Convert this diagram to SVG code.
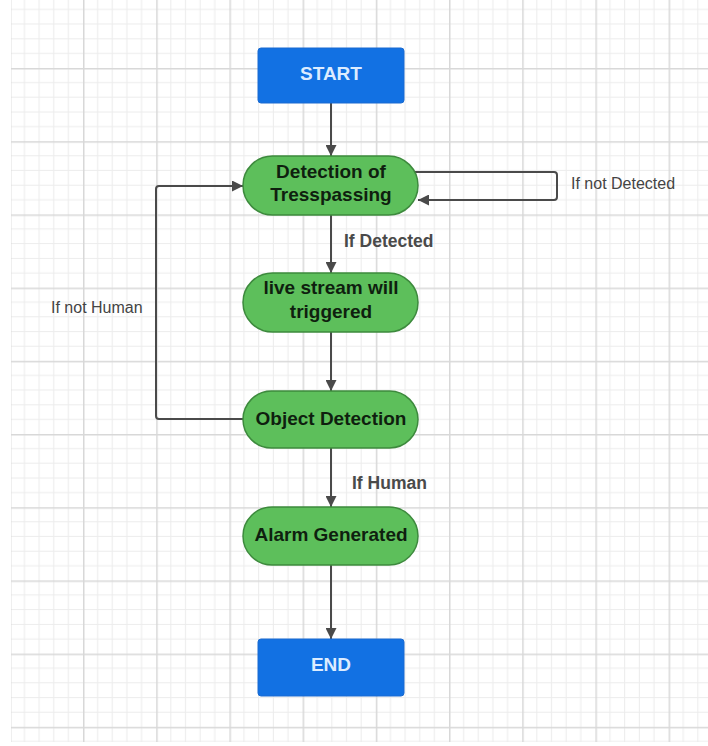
<svg xmlns="http://www.w3.org/2000/svg" width="708" height="746" viewBox="0 0 708 746">
<style>
.term{fill:#1271e3;stroke:#1a6ad0;stroke-width:1}
.termtxt{font-family:"Liberation Sans",Arial,sans-serif;font-weight:bold;font-size:19px;fill:#dcecff;text-anchor:middle}
.proc{fill:#5dbf5b;stroke:#3d8a3d;stroke-width:1.5}
.proctxt{font-family:"Liberation Sans",Arial,sans-serif;font-weight:bold;font-size:19px;fill:#0f1f0f;text-anchor:middle}
.conn{fill:none;stroke:#4a4a4a;stroke-width:2}
.lbl{font-family:"Liberation Sans",Arial,sans-serif;font-size:16px;fill:#444}
.lblb{font-family:"Liberation Sans",Arial,sans-serif;font-size:17.5px;font-weight:bold;fill:#4a4a4a}
</style>
<defs>
<pattern id="grid" patternUnits="userSpaceOnUse" x="9.8" y="-5.2" width="73.2" height="73.2">
<path d="M14.64 0V73.2M29.28 0V73.2M43.92 0V73.2M58.56 0V73.2M0 14.64H73.2M0 29.28H73.2M0 43.92H73.2M0 58.56H73.2" stroke="#ececec" stroke-width="1" fill="none"/>
<path d="M0.75 0V73.2M0 0.75H73.2" stroke="#d8d8d8" stroke-width="1.5" fill="none"/>
</pattern>
<marker id="arr" viewBox="0 0 10 10" refX="10" refY="5" markerWidth="6" markerHeight="5.5" orient="auto" markerUnits="strokeWidth">
<path d="M0 0L10 5L0 10z" fill="#4a4a4a"/>
</marker>
</defs>
<rect width="708" height="746" fill="#ffffff"/>
<rect x="11" y="0" width="697" height="742" fill="url(#grid)"/>
<g id="connectors">
<path class="conn" d="M331 103V156" marker-end="url(#arr)"/>
<path class="conn" d="M331 215V273" marker-end="url(#arr)"/>
<path class="conn" d="M331 332V391" marker-end="url(#arr)"/>
<path class="conn" d="M331 448V507" marker-end="url(#arr)"/>
<path class="conn" d="M331 565V639" marker-end="url(#arr)"/>
<path class="conn" d="M412 172H554Q557 172 557 175V197Q557 200 554 200H418" marker-end="url(#arr)" stroke-width="1.8"/>
<path class="conn" d="M243 419H159Q156 419 156 416V189Q156 186 159 186H243" marker-end="url(#arr)" stroke-width="1.8"/>
<text class="lbl" x="571" y="189">If not Detected</text>
<text class="lblb" x="344" y="247">If Detected</text>
<text class="lbl" x="51" y="313">If not Human</text>
<text class="lblb" x="352" y="489">If Human</text>
</g>
<g id="start">
<rect class="term" x="258" y="48" width="146" height="55" rx="3"/>
<text class="termtxt" x="331" y="80">START</text>
</g>
<g id="detection">
<rect class="proc" x="243" y="156" width="175" height="59" rx="29.5"/>
<text class="proctxt" x="331" y="178">Detection of</text>
<text class="proctxt" x="331" y="201">Tresspassing</text>
</g>
<g id="livestream">
<rect class="proc" x="243" y="273" width="175" height="59" rx="29.5"/>
<text class="proctxt" x="331" y="294">live stream will</text>
<text class="proctxt" x="331" y="318">triggered</text>
</g>
<g id="object">
<rect class="proc" x="243" y="391" width="175" height="57" rx="28.5"/>
<text class="proctxt" x="331" y="425">Object Detection</text>
</g>
<g id="alarm">
<rect class="proc" x="243" y="507" width="175" height="58" rx="29"/>
<text class="proctxt" x="331" y="541">Alarm Generated</text>
</g>
<g id="end">
<rect class="term" x="258" y="639" width="146" height="57" rx="3"/>
<text class="termtxt" x="331" y="671">END</text>
</g>
</svg>
